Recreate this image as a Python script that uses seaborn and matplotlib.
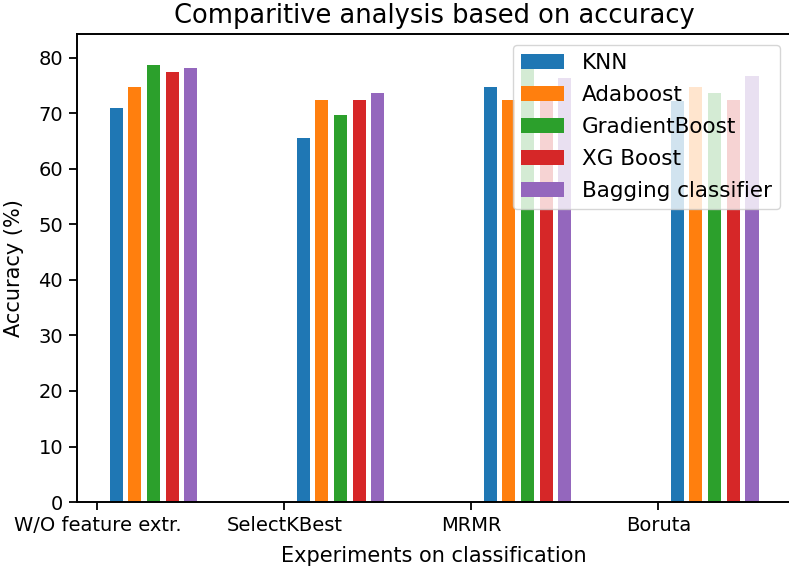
import numpy as np
import pandas as pd
import matplotlib
matplotlib.use("Agg")
import matplotlib.pyplot as plt
import seaborn as sns

# Feature-selection experiments (x groups) and classifiers (bars in each group)
experiments = ["W/O feature extr.", "SelectKBest", "MRMR", "Boruta"]
models = ["KNN", "Adaboost", "GradientBoost", "XG Boost", "Bagging classifier"]

# Accuracy (%) per classifier, one value per experiment
knn = [71.0, 65.5, 74.7, 72.3]
adaboost = [74.7, 72.4, 72.4, 74.7]
gradientboost = [78.7, 69.7, 80.3, 73.6]
xgboost = [77.4, 72.4, 72.9, 72.4]
bagging = [78.2, 73.6, 76.3, 76.7]

colors = ["#1f77b4", "#ff7f0e", "#2ca02c", "#d62728", "#9467bd"]

series = [knn, adaboost, gradientboost, xgboost, bagging]
pos = np.arange(len(experiments))
df = pd.DataFrame({
    "group_pos": np.tile(pos + 0.3, len(models)),
    "model": np.repeat(models, len(experiments)),
    "accuracy": np.concatenate(series),
})

plt.rcParams["axes.linewidth"] = 1.4

fig = plt.figure(figsize=(7.89, 5.67), dpi=100)
ax = fig.add_axes([0.0976, 0.1146, 0.905, 0.8254])

sns.barplot(
    data=df, x="group_pos", y="accuracy", hue="model",
    hue_order=models, palette=colors, native_scale=True,
    width=0.5, gap=0.3, saturation=1, errorbar=None, ax=ax,
)

ax.set_xticks(pos)
ax.set_xticklabels(experiments, fontsize=14)
ax.tick_params(axis="both", labelsize=14, length=5.5, width=1.3, pad=4.5)
ax.set_xlim(-0.109, 3.709)
ax.set_ylim(0, 84.3)
ax.set_yticks(np.arange(0, 81, 10))

ax.set_xlabel("Experiments on classification", fontsize=15, labelpad=8)
ax.set_ylabel("Accuracy (%)", fontsize=15, labelpad=10)
ax.set_title("Comparitive analysis based on accuracy", fontsize=18.5, pad=8)

ax.legend(loc="upper right", fontsize=15.5, labelspacing=0.55)

fig.savefig("out.png", dpi=100)
